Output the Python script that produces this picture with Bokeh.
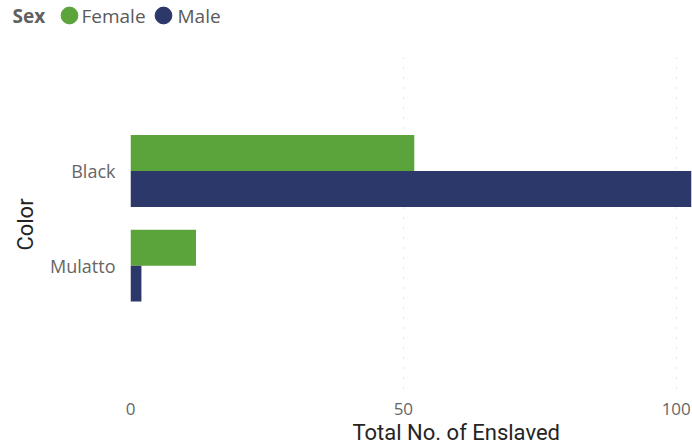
from bokeh.plotting import figure
from bokeh.layouts import column
from bokeh.models import Range1d, FixedTicker, Legend, LegendItem, Label, Title
from bokeh.embed import file_html
from bokeh.resources import INLINE

categories = ["Black", "Mulatto"]
female = [52, 12]
male = [103, 2]
x_ticks = [0, 50, 100]
series_names = ["Female", "Male"]
legend_title = "Sex"
x_title = "Total No. of Enslaved"
y_title = "Color"
colors = ["#5BA33B", "#2D386A"]

pos = list(range(len(categories)))
off = 0.19
bar_h = 0.38

# ---- legend strip ----
lg = figure(width=692, height=57, output_backend="svg", toolbar_location=None,
            x_range=Range1d(0, 1), y_range=Range1d(0, 1),
            x_axis_type=None, y_axis_type=None, min_border=0,
            outline_line_color=None, frame_align=False)
lg.xgrid.visible = False
lg.ygrid.visible = False
lf = lg.scatter(x=female, y=pos, marker="circle", color=colors[0], visible=False)
lm = lg.scatter(x=male, y=pos, marker="circle", color=colors[1], visible=False)
legend = Legend(items=[LegendItem(label="", renderers=[lf], index=0),
                       LegendItem(label="", renderers=[lm], index=0)],
                orientation="horizontal", location=(48, 21),
                label_width=0, label_standoff=0,
                glyph_width=42, glyph_height=42, spacing=52,
                padding=0, margin=0,
                border_line_color=None, background_fill_alpha=0)
lg.add_layout(legend, "center")
lg.add_layout(Label(x=12, y=42, x_units="screen", y_units="screen",
                    text=legend_title, text_font="Open Sans", text_font_style="bold",
                    text_font_size="19px", text_color="#606060",
                    text_baseline="middle"))
for name, lx in zip(series_names, [81, 177]):
    lg.add_layout(Label(x=lx, y=42, x_units="screen", y_units="screen",
                        text=name, text_font="Open Sans",
                        text_font_size="19px", text_color="#5a5a5a",
                        text_baseline="middle"))

# ---- main chart ----
p = figure(width=692, height=387, output_backend="svg", toolbar_location=None,
           x_range=Range1d(0, 102.8), y_range=Range1d(2.33, -1.2),
           min_border_left=130, min_border_right=1, min_border_top=0,
           min_border_bottom=52, outline_line_color=None, frame_align=False)

p.hbar(y=[i - off for i in pos], left=0, right=female, height=bar_h,
       color=colors[0], line_color=None)
p.hbar(y=[i + off for i in pos], left=0, right=male, height=bar_h,
       color=colors[1], line_color=None)

p.xaxis.ticker = FixedTicker(ticks=x_ticks)
p.yaxis.ticker = FixedTicker(ticks=pos)
p.yaxis.major_label_overrides = {i: c for i, c in zip(pos, categories)}
p.yaxis.axis_label = y_title

for ax in (p.xaxis, p.yaxis):
    ax.axis_line_color = None
    ax.major_tick_line_color = None
    ax.minor_tick_line_color = None
    ax.major_tick_out = 0
    ax.major_tick_in = 0
    ax.minor_tick_out = 0
    ax.minor_tick_in = 0
    ax.major_label_text_font = "Open Sans"
    ax.major_label_text_color = "#666666"
    ax.axis_label_text_font = "Roboto"
    ax.axis_label_text_font_size = "22px"
    ax.axis_label_text_font_style = "normal"
    ax.axis_label_text_color = "#252423"

p.xaxis.major_label_text_font_size = "17px"
p.yaxis.major_label_text_font_size = "18px"
p.xaxis.major_label_standoff = 11
p.yaxis.major_label_standoff = 15
p.yaxis.axis_label_standoff = 9

p.add_layout(Title(text=x_title, align="left", offset=222, standoff=0,
                   text_font="Roboto", text_font_size="22px",
                   text_font_style="normal", text_color="#252423"), "below")

p.xgrid.grid_line_color = "#c8c8c8"
p.xgrid.grid_line_dash = "1 9"
p.xgrid.grid_line_width = 1
p.ygrid.grid_line_color = None

layout = column(lg, p, spacing=0)
open("out.html", "w").write(file_html(layout, INLINE))
